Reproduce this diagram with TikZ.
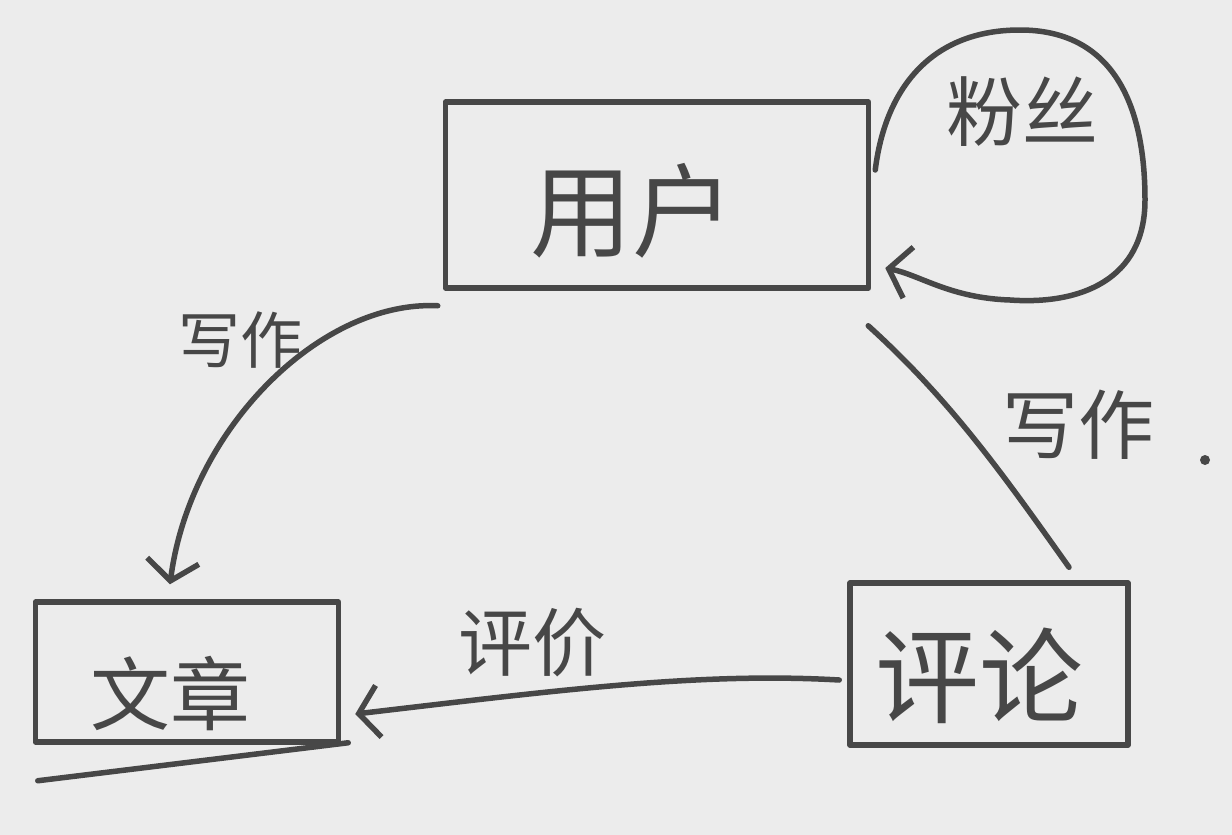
\documentclass[tikz,border=0pt]{standalone}
\usepackage{fontspec}
\newfontfamily\cjk{Noto Sans CJK SC}
\usetikzlibrary{arrows.meta,calc}
\definecolor{bgc}{HTML}{ECECEC}
\definecolor{ink}{HTML}{474747}
\begin{document}
\begin{tikzpicture}[x=1pt,y=-1pt,
  ink line/.style={draw=ink,line width=5.5pt,line cap=round,line join=round},
  box/.style={ink line,rectangle,inner sep=0pt,text=ink},
  barb/.style={-{Straight Barb[length=20pt,width=52pt,line width=5.5pt]}},
  lbl/.style={text=ink,font=\cjk\fontsize{62}{64}\selectfont,inner sep=0pt}]
\fill[bgc] (0,0) rectangle (1232,835);
\useasboundingbox (0,0) rectangle (1232,835);
% boxes
\node[box,minimum width=423pt,minimum height=186pt] (user) at (657,195)
  {\cjk\fontsize{102}{104}\selectfont\hspace*{-50pt}\raisebox{-54pt}[0pt][0pt]{用户}};
\node[box,minimum width=303pt,minimum height=140pt] (article) at (187,672)
  {\cjk\fontsize{80}{82}\selectfont\hspace*{-34pt}\raisebox{-52pt}[0pt][0pt]{文章}};
\node[box,minimum width=278pt,minimum height=162pt] (comment) at (989,664)
  {\cjk\fontsize{104}{106}\selectfont\hspace*{-20pt}\raisebox{-51pt}[0pt][0pt]{评论}};
% extra bottom stroke of the article box
\draw[ink line] ($(article.south west)+(5,36)$) -- ($(article.south east)+(7,-2)$);
% self loop: fans
\draw[ink line,barb] ($(user.east)+(4,-25)$)
  .. controls (885,90) and (930,30) .. (1020,30)
  .. controls (1110,30) and (1145,100) .. (1145,200)
  .. controls (1145,280) and (1080,305) .. (1010,300)
  .. controls (950,298) and (920,275) .. ($(user.east)+(14,73)$);
\node[lbl,font=\cjk\fontsize{76}{78}\selectfont] (fans) at (1022,112) {粉丝};
% user -> article (write)
\draw[ink line,barb] ($(user.south west)+(-5,15)$)
  .. controls (320,300) and (190,430) .. ($(article.north)+(-17,-15)$);
\node[lbl] (w1) at (240,340) {写作};
% user -- comment (write)
\draw[ink line] ($(user.south east)+(-3,35)$)
  .. controls (950,400) and (1000,470) .. ($(comment.north)+(80,-13)$);
\node[lbl,font=\cjk\fontsize{76}{78}\selectfont] (w2) at (1078,425) {写作};
\fill[ink] (1205,460) circle (5pt);
% comment -> article (evaluate)
\draw[ink line,barb] ($(comment.west)+(-8,16)$)
  .. controls (700,672) and (560,690) .. ($(article.east)+(14,42)$);
\node[lbl,font=\cjk\fontsize{74}{76}\selectfont] (e1) at (532,643) {评价};
\end{tikzpicture}
\end{document}
